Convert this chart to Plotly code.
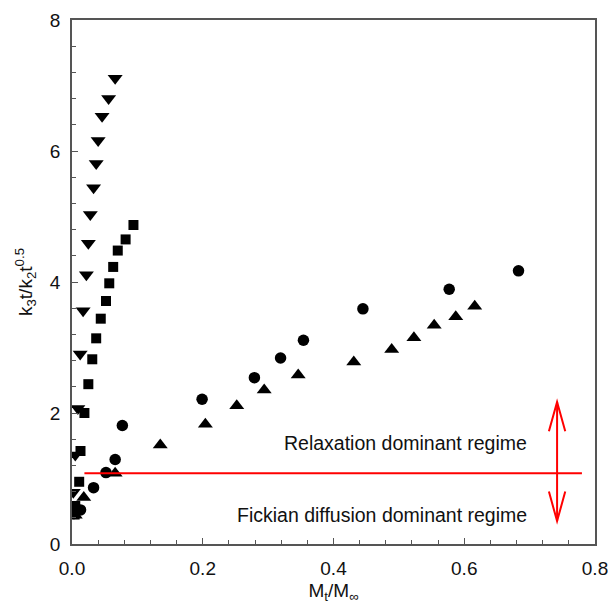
import plotly.graph_objects as go

# Inverted triangles
tri_down_x = [0.066, 0.056, 0.046, 0.040, 0.037, 0.033, 0.028, 0.025, 0.022, 0.017, 0.0125, 0.009, 0.005, 0.002, 0.003]
tri_down_y = [7.11, 6.80, 6.53, 6.16, 5.81, 5.44, 5.03, 4.59, 4.11, 3.56, 2.90, 2.07, 1.36, 0.79, 0.47]

# Squares
sq_x = [0.094, 0.082, 0.070, 0.063, 0.057, 0.052, 0.044, 0.037, 0.031, 0.025, 0.019, 0.013, 0.011, 0.005, 0.004]
sq_y = [4.87, 4.65, 4.48, 4.23, 3.98, 3.71, 3.44, 3.14, 2.82, 2.44, 2.00, 1.42, 0.95, 0.58, 0.45]

# Circles
circ_x = [0.013, 0.033, 0.052, 0.066, 0.077, 0.199, 0.279, 0.319, 0.354, 0.445, 0.577, 0.683]
circ_y = [0.52, 0.86, 1.09, 1.29, 1.81, 2.21, 2.54, 2.84, 3.11, 3.59, 3.89, 4.17]

# Upward triangles
tri_up_x = [0.005, 0.018, 0.066, 0.135, 0.204, 0.252, 0.294, 0.346, 0.431, 0.489, 0.523, 0.554, 0.587, 0.616]
tri_up_y = [0.44, 0.71, 1.08, 1.51, 1.83, 2.11, 2.35, 2.58, 2.78, 2.97, 3.15, 3.34, 3.47, 3.63]

# Regime boundary and arrow
boundary_y = 1.08
boundary_x0, boundary_x1 = 0.019, 0.78
arrow_x = 0.742
arrow_y0, arrow_y1 = 0.35, 2.17
head_len = 0.45
head_half = 0.0125

fig = go.Figure()
mk = dict(color="black", line=dict(width=0))
fig.add_trace(go.Scatter(x=tri_down_x, y=tri_down_y, mode="markers",
                         marker=dict(symbol="triangle-down", size=13, **mk)))
fig.add_trace(go.Scatter(x=sq_x, y=sq_y, mode="markers",
                         marker=dict(symbol="square", size=10, **mk)))
fig.add_trace(go.Scatter(x=circ_x, y=circ_y, mode="markers",
                         marker=dict(symbol="circle", size=11.5, **mk)))
fig.add_trace(go.Scatter(x=tri_up_x, y=tri_up_y, mode="markers",
                         marker=dict(symbol="triangle-up", size=13, **mk)))

red = "#ff0000"
fig.add_shape(type="line", x0=boundary_x0, x1=boundary_x1, y0=boundary_y, y1=boundary_y,
              line=dict(color=red, width=2))
fig.add_shape(type="line", x0=arrow_x, x1=arrow_x, y0=arrow_y0, y1=arrow_y1,
              line=dict(color=red, width=2))
for tip, sgn in [(arrow_y1, -1), (arrow_y0, 1)]:
    fig.add_shape(type="path",
                  path=f"M {arrow_x - head_half},{tip + sgn*head_len} L {arrow_x},{tip} L {arrow_x + head_half},{tip + sgn*head_len}",
                  line=dict(color=red, width=2))

font = "Liberation Sans, Arial, sans-serif"
fig.add_annotation(x=0.699, y=1.54, text="Relaxation dominant regime", showarrow=False,
                   xanchor="right", yanchor="middle", font=dict(family=font, size=19.5, color="#111"))
fig.add_annotation(x=0.699, y=0.44, text="Fickian diffusion dominant regime", showarrow=False,
                   xanchor="right", yanchor="middle", font=dict(family=font, size=19.5, color="#111"))

axis_common = dict(showline=True, linecolor="#555", linewidth=1.5, mirror=True, showgrid=False,
                   zeroline=False, ticks="inside", tickcolor="#555", ticklen=6, tickwidth=1.2,
                   automargin=False, ticklabelstandoff=6, ticklabeloverflow="allow",
                   tickfont=dict(family=font, size=19, color="#111"),
                   minor=dict(ticks="inside", ticklen=4, tickcolor="#555", tickwidth=1.2))
fig.update_xaxes(range=[0, 0.8], tick0=0, dtick=0.2, tickformat=".1f",
                 title=dict(text="M<sub>t</sub>/M<sub>∞</sub>", font=dict(family=font, size=19, color="#111"), standoff=17),
                 **{**axis_common, "minor": dict(axis_common["minor"], dtick=0.04)})
fig.update_yaxes(range=[0, 8], tick0=0, dtick=2,
                 title=dict(text="k<sub>3</sub>t/k<sub>2</sub>t<sup>0.5</sup>", font=dict(family=font, size=19, color="#111"), standoff=12),
                 **{**axis_common, "minor": dict(axis_common["minor"], dtick=0.4)})

fig.update_layout(width=608, height=604, margin=dict(l=72, r=13, t=20, b=60),
                  plot_bgcolor="white", paper_bgcolor="white", showlegend=False)
fig.write_html("out.html", config={"displayModeBar": False},
               post_script="document.body.style.margin='0';document.body.style.overflow='hidden';")
